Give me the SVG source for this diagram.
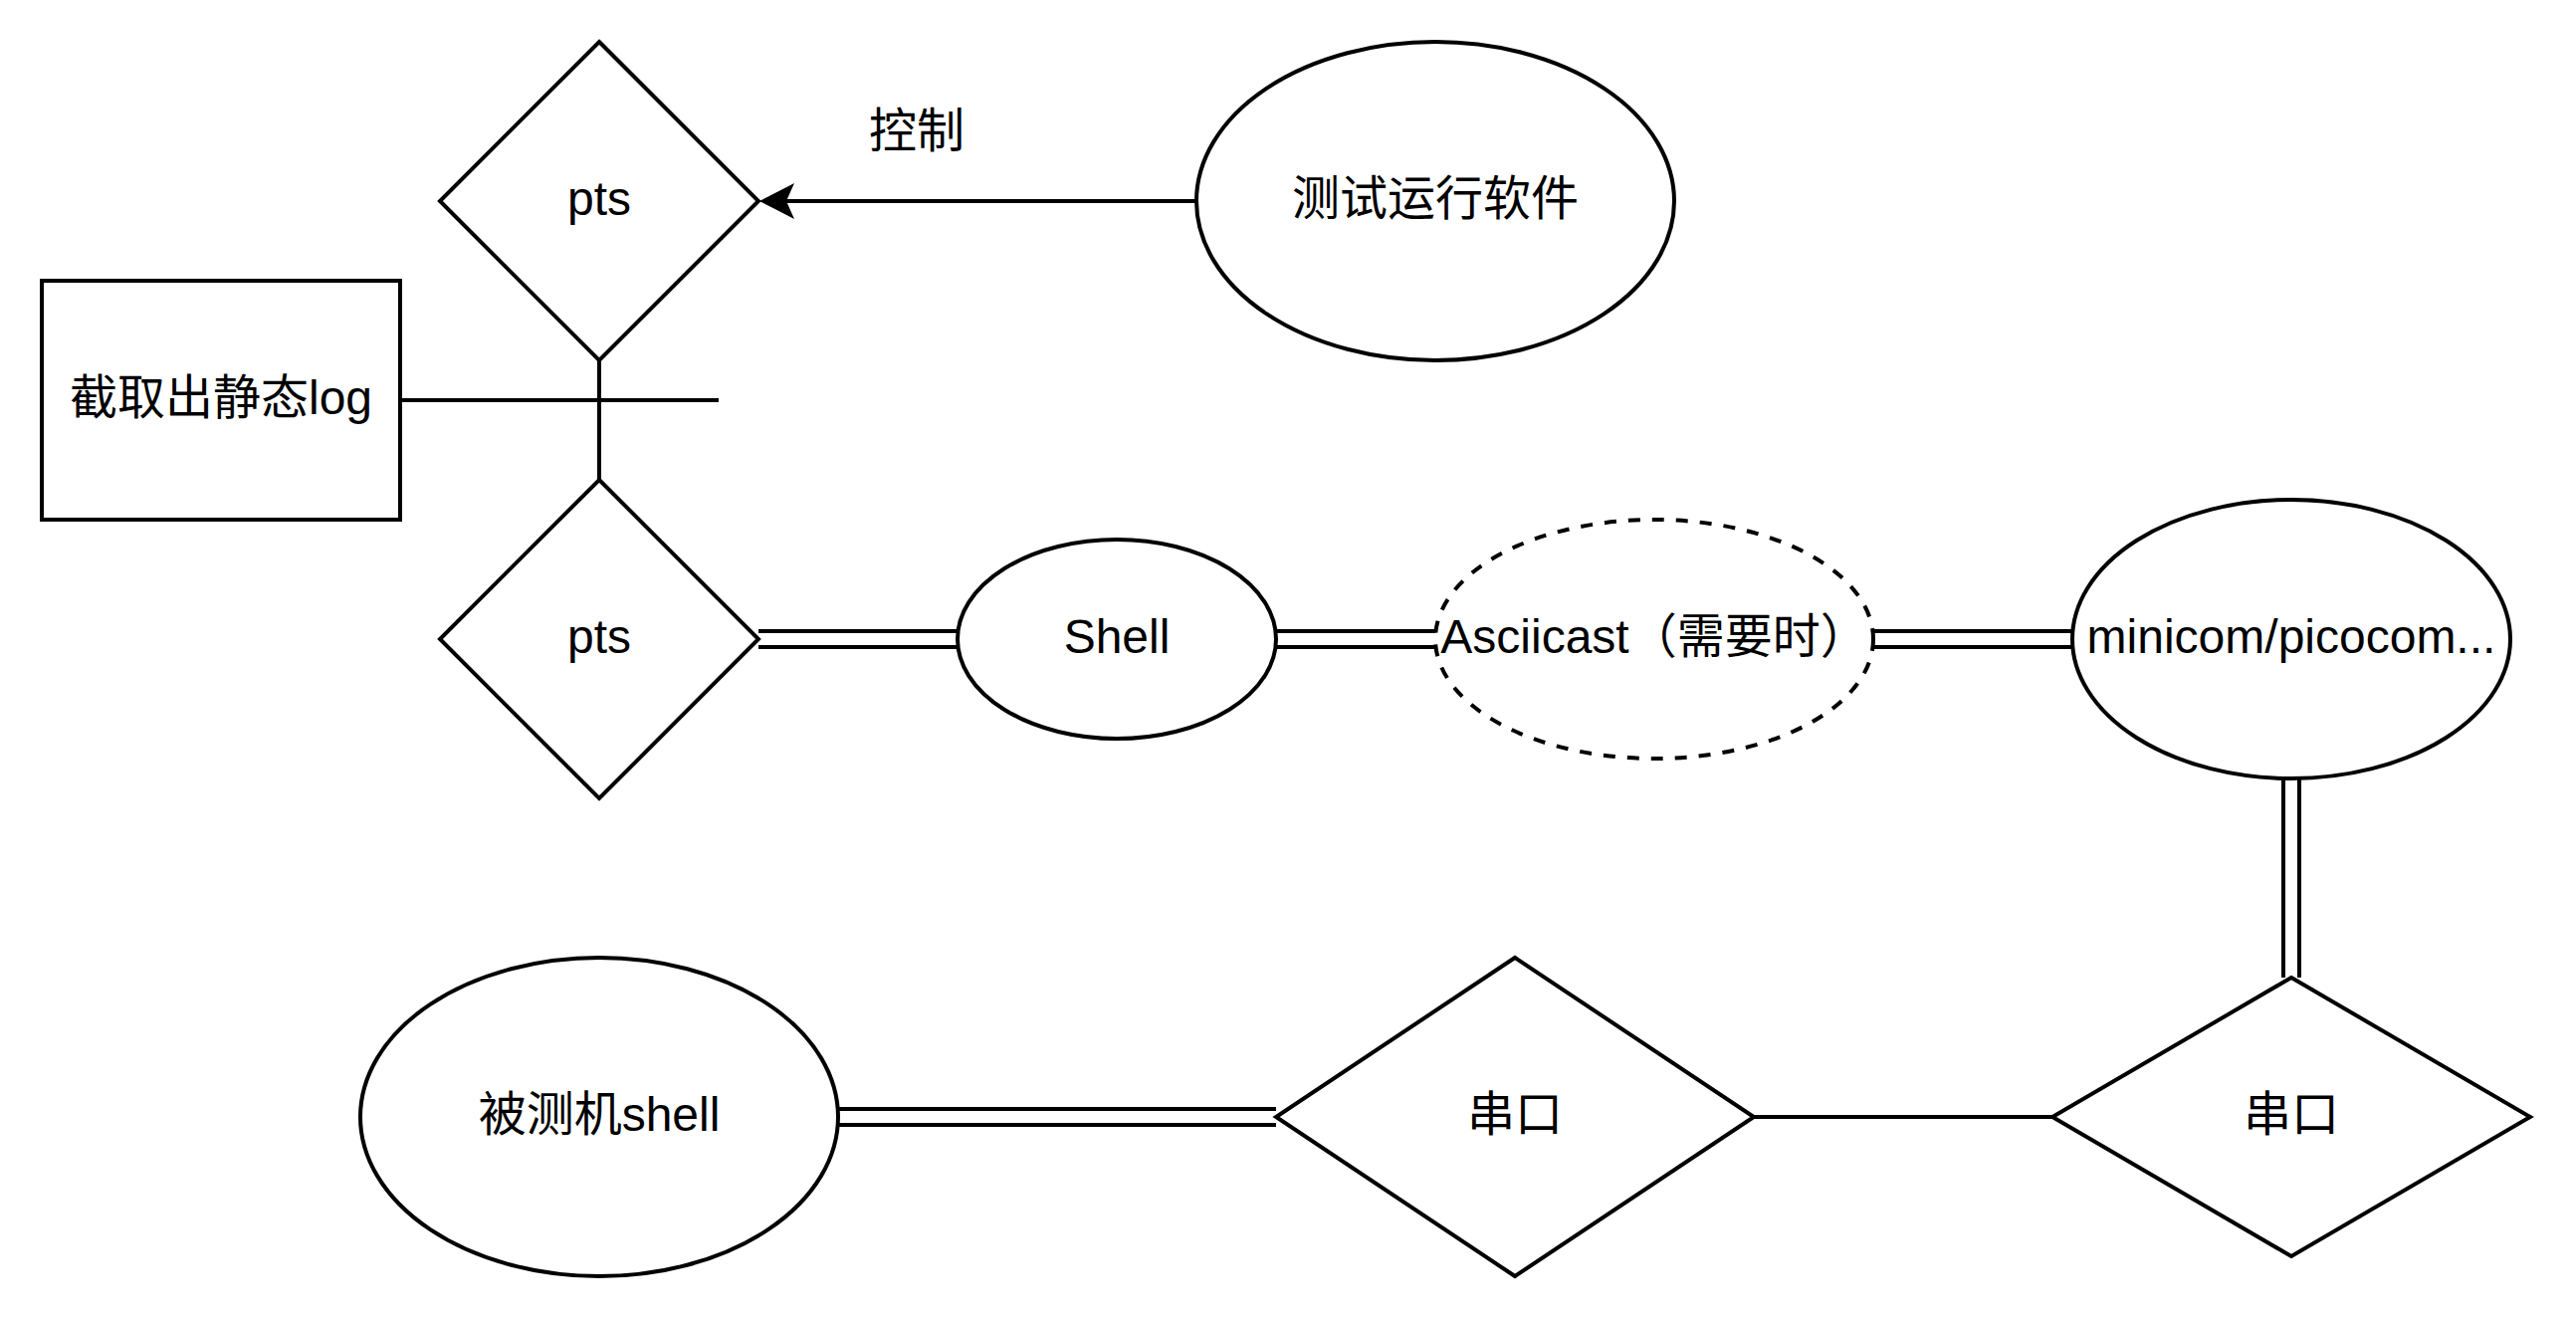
<svg xmlns="http://www.w3.org/2000/svg" width="2588" height="1328" viewBox="0 0 2588 1328">
<style>
.shape{fill:#ffffff;stroke:#000000;stroke-width:4}
.dash{stroke-dasharray:12 12}
.line{fill:none;stroke:#000000;stroke-width:4}
.linkO{fill:none;stroke:#000000;stroke-width:20}
.linkI{fill:none;stroke:#ffffff;stroke-width:12}
.t{font-family:"Liberation Sans","Noto Sans CJK SC",Arial,sans-serif;font-size:48px;fill:#000000;text-anchor:middle}
</style>
<defs>
<marker id="arrow" markerUnits="userSpaceOnUse" markerWidth="36" markerHeight="38" viewBox="0 0 36 38" refX="8" refY="18" orient="auto">
<path d="M35,18 L0,0 L8,18 L0,36 Z" fill="#000000"/>
</marker>
</defs>
<rect width="2588" height="1328" fill="#ffffff"/>
<g id="connectors">
<line class="line" x1="1202" y1="202" x2="790" y2="202" marker-end="url(#arrow)"/>
<line class="line" x1="402" y1="402" x2="722" y2="402"/>
<line class="line" x1="602" y1="362" x2="602" y2="482"/>
<line class="line" x1="1762" y1="1122" x2="2062" y2="1122"/>
<g id="link-pts-shell"><line class="linkO" x1="762" y1="642" x2="962" y2="642"/><line class="linkI" x1="762" y1="642" x2="962" y2="642"/></g>
<g id="link-shell-ascii"><line class="linkO" x1="1282" y1="642" x2="1443" y2="642"/><line class="linkI" x1="1282" y1="642" x2="1443" y2="642"/></g>
<g id="link-ascii-minicom"><line class="linkO" x1="1881" y1="642" x2="2082" y2="642"/><line class="linkI" x1="1881" y1="642" x2="2082" y2="642"/></g>
<g id="link-minicom-serial"><line class="linkO" x1="2302" y1="782" x2="2302" y2="982"/><line class="linkI" x1="2302" y1="782" x2="2302" y2="982"/></g>
<g id="link-dut-serial"><line class="linkO" x1="842" y1="1122" x2="1282" y2="1122"/><line class="linkI" x1="842" y1="1122" x2="1282" y2="1122"/></g>
<text class="t" x="921" y="148">控制</text>
</g>
<g id="pts1">
<polygon class="shape" points="602,42 762,202 602,362 442,202"/>
<text class="t" x="602" y="216">pts</text>
</g>
<g id="test-software">
<ellipse class="shape" cx="1442" cy="202" rx="240" ry="160"/>
<text class="t" x="1442" y="216">测试运行软件</text>
</g>
<g id="static-log">
<rect class="shape" x="42" y="282" width="360" height="240"/>
<text class="t" x="222" y="416">截取出静态log</text>
</g>
<g id="pts2">
<polygon class="shape" points="602,482 762,642 602,802 442,642"/>
<text class="t" x="602" y="656">pts</text>
</g>
<g id="shell">
<ellipse class="shape" cx="1122" cy="642" rx="160" ry="100"/>
<text class="t" x="1122" y="656">Shell</text>
</g>
<g id="asciicast">
<ellipse class="shape dash" cx="1662" cy="642" rx="220" ry="120"/>
<text class="t" x="1662" y="656">Asciicast（需要时）</text>
</g>
<g id="minicom">
<ellipse class="shape" cx="2302" cy="642" rx="220" ry="140"/>
<text class="t" x="2302" y="656">minicom/picocom...</text>
</g>
<g id="dut-shell">
<ellipse class="shape" cx="602" cy="1122" rx="240" ry="160"/>
<text class="t" x="602" y="1136">被测机shell</text>
</g>
<g id="serial1">
<polygon class="shape" points="1522,962 1762,1122 1522,1282 1282,1122"/>
<text class="t" x="1522" y="1136">串口</text>
</g>
<g id="serial2">
<polygon class="shape" points="2302,982 2542,1122 2302,1262 2062,1122"/>
<text class="t" x="2302" y="1136">串口</text>
</g>
</svg>
